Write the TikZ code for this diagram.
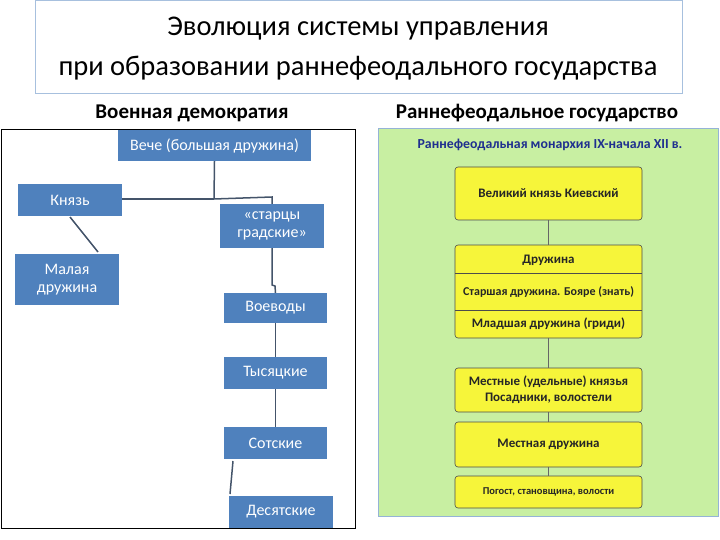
\documentclass[tikz,border=0pt]{standalone}
\usepackage{fontspec}
\setmainfont{Carlito}
\definecolor{bb}{HTML}{4F81BD}
\definecolor{ln}{HTML}{44546A}
\definecolor{gr}{HTML}{C8EFA2}
\definecolor{yl}{HTML}{F6F53A}
\definecolor{dk}{HTML}{1F2F8F}
\begin{document}
\begin{tikzpicture}[x=1pt,y=-1pt,
 bx/.style={fill=bb,text=white,font=\fontsize{16}{18}\selectfont,align=center,inner sep=0pt},
 yb/.style={fill=yl,draw=black!70,rounded corners=3pt,line width=0.6pt},
 ytx/.style={font=\fontsize{13}{16}\selectfont\bfseries,text=black!85,align=center},
 cn/.style={draw=ln,line width=1.5pt}]
\useasboundingbox (0,0) rectangle (720,540);
\node[draw=bb!50,line width=0.5pt,minimum width=647pt,minimum height=93pt,inner sep=0pt] (tb) at (358.5,46.5) {};
\node[font=\fontsize{28.5}{40}\selectfont,align=center] (title) at (358,49) {Эволюция системы управления\\при образовании раннефеодального государства};
\node[font=\fontsize{21}{22}\selectfont\bfseries] (h1) at (192,113) {Военная демократия};
\node[font=\fontsize{21}{22}\selectfont\bfseries] (h2) at (537,113) {Раннефеодальное государство};
% left panel
\draw[line width=0.8pt] (1,129) rectangle (355,528);
\node[bx,minimum width=193pt,minimum height=31pt,font=\fontsize{16}{18}\selectfont] (veche) at (214.5,145.5) {Вече (большая дружина)};
\node[bx,minimum width=104pt,minimum height=32pt] (knyaz) at (70,200) {Князь};
\node[bx,minimum width=104pt,minimum height=44pt] (starcy) at (272,226) {«старцы\\градские»};
\node[bx,minimum width=104pt,minimum height=51pt] (malaya) at (67,279.5) {Малая\\дружина};
\node[bx,minimum width=103pt,minimum height=30pt] (voev) at (275.5,308) {Воеводы};
\node[bx,minimum width=103pt,minimum height=32pt] (tys) at (275.5,373) {Тысяцкие};
\node[bx,minimum width=103pt,minimum height=32pt] (sot) at (275.5,443) {Сотские};
\node[bx,minimum width=104pt,minimum height=32pt] (des) at (281,512) {Десятские};
\coordinate (j) at (214,199);
\draw[cn] (veche.south) -- (j);
\draw[cn] (j) -- (knyaz.east |- j);
\draw[cn] (j) -- (272,197) -- (starcy.north);
\draw[cn] (70,217) -- (98,252);
\draw[cn] (starcy.south) -- (272,285) -- (275,286) -- (voev.north);
\draw[cn] (voev.south) -- (tys.north);
\draw[cn] (tys.south) -- (sot.north);
\draw[cn] (233,461) -- (230,494);
% right panel
\node[fill=gr,draw=bb!60,line width=0.8pt,minimum width=340pt,minimum height=388pt,inner sep=0pt] (gp) at (548,322) {};
\node[font=\fontsize{13.8}{16}\selectfont\bfseries,text=dk] (rh) at (550,145) {Раннефеодальная монархия IX-начала XII в.};
\node[yb,minimum width=187pt,minimum height=53pt] (vk) at (548.5,193.5) {};
\node[ytx] at (vk) {Великий князь Киевский};
\node[yb,minimum width=187pt,minimum height=93pt] (dr) at (548.5,291.5) {};
\draw[black!70,line width=0.6pt] (455,273) -- (642,273) (455,310) -- (642,310);
\node[ytx] at (548.5,260) {Дружина};
\node[ytx,font=\fontsize{12}{14}\selectfont\bfseries] at (548.5,292) {Старшая дружина. Бояре (знать)};
\node[ytx] at (548.5,324) {Младшая дружина (гриди)};
\node[yb,minimum width=187pt,minimum height=44pt] (mk) at (548.5,390) {};
\node[ytx] at (mk) {Местные (удельные) князья\\Посадники, волостели};
\node[yb,minimum width=187pt,minimum height=45pt] (md) at (548.5,444.5) {};
\node[ytx] at (md) {Местная дружина};
\node[yb,minimum width=187pt,minimum height=32pt] (pg) at (548.5,492) {};
\node[ytx,font=\fontsize{10.5}{12}\selectfont\bfseries] at (pg) {Погост, становщина, волости};
\draw[black!60,line width=0.5pt] (vk.south) -- (dr.north) (dr.south) -- (mk.north) (mk.south) -- (md.north) (md.south) -- (pg.north);
\end{tikzpicture}
\end{document}
